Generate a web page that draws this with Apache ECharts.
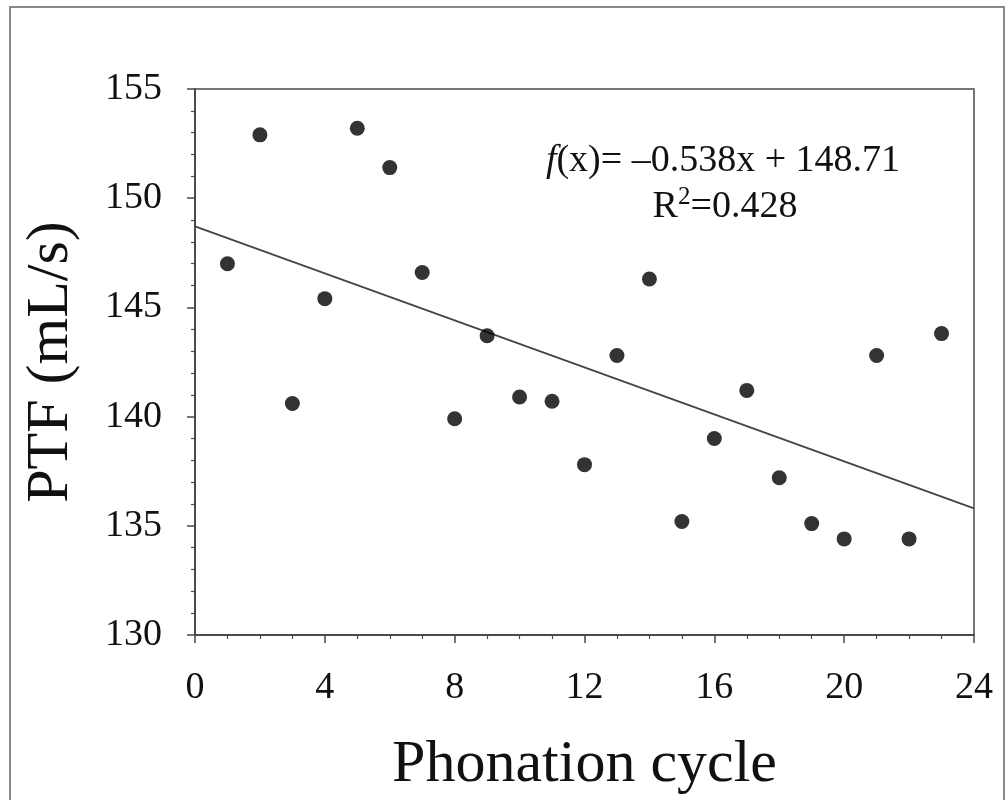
<!DOCTYPE html>
<html>
<head>
<meta charset="utf-8">
<script src="https://cdn.jsdelivr.net/npm/echarts@6/dist/echarts.min.js"></script>
<style>
  html, body { margin: 0; padding: 0; background: #fff; }
  #chart { width: 1008px; height: 800px; }
</style>
</head>
<body>
<div id="chart"></div>
<script>
// measured points: phonation cycle vs PTF
const cycles = [1, 2, 3, 4, 5, 6, 7, 8, 9, 10, 11, 12, 13, 14, 15, 16, 17, 18, 19, 20, 21, 22, 23];
const ptf = [147.0, 152.9, 140.6, 145.4, 153.2, 151.4, 146.6, 139.9, 143.7, 140.9, 140.7, 137.8,
  142.8, 146.3, 135.2, 139.0, 141.2, 137.2, 135.1, 134.4, 142.8, 134.4, 143.8];

// fitted line end points (as drawn)
const fitX = [0, 24];
const fitY = [148.71, 135.8];

const xTicks = { min: 0, max: 24, interval: 4 };
const yTicks = { min: 130, max: 155, interval: 5 };

const FONT = '"Liberation Serif", "Times New Roman", serif';
const AXIS = '#4a4a4a';

const chart = echarts.init(document.getElementById('chart'));

chart.setOption({
  backgroundColor: '#fff',
  animation: false,
  grid: {
    left: 195, right: 34, top: 89, bottom: 165,
    show: true, borderColor: AXIS, borderWidth: 1.5
  },
  xAxis: {
    type: 'value',
    min: xTicks.min, max: xTicks.max, interval: xTicks.interval,
    name: 'Phonation cycle',
    nameLocation: 'middle',
    nameGap: 100,
    nameTextStyle: { fontFamily: FONT, fontSize: 60, color: '#111' },
    axisLine: { show: true, onZero: false, lineStyle: { color: AXIS, width: 2 } },
    axisTick: { show: true, inside: false, length: 8, lineStyle: { color: AXIS, width: 1.5 } },
    minorTick: { show: true, splitNumber: 4, length: 4, lineStyle: { color: AXIS, width: 1.2 } },
    splitLine: { show: false },
    axisLabel: { fontFamily: FONT, fontSize: 38, color: '#111', margin: 34 }
  },
  yAxis: {
    type: 'value',
    min: yTicks.min, max: yTicks.max, interval: yTicks.interval,
    name: 'PTF (mL/s)',
    nameLocation: 'middle',
    nameGap: 114,
    nameTextStyle: { fontFamily: FONT, fontSize: 60, color: '#111' },
    axisLine: { show: true, onZero: false, lineStyle: { color: AXIS, width: 2 } },
    axisTick: { show: true, inside: false, length: 8, lineStyle: { color: AXIS, width: 1.5 } },
    minorTick: { show: true, splitNumber: 5, length: 4, lineStyle: { color: AXIS, width: 1.2 } },
    splitLine: { show: false },
    axisLabel: { fontFamily: FONT, fontSize: 38, color: '#111', margin: 33 }
  },
  graphic: [
    {
      type: 'rect',
      shape: { x: 10, y: 7, width: 994, height: 820 },
      style: { fill: 'none', stroke: '#888', lineWidth: 2 },
      silent: true
    },
    {
      type: 'text',
      x: 723, y: 161,
      style: {
        text: '{i|f}(x)= \u20130.538x + 148.71',
        rich: { i: { fontStyle: 'italic', fontFamily: FONT, fontSize: 38, fill: '#111' } },
        fontFamily: FONT, fontSize: 38, fill: '#111',
        align: 'center', verticalAlign: 'middle'
      }
    },
    {
      type: 'text',
      x: 725, y: 207,
      style: {
        text: '{n|R}{s|2}{n|=0.428}',
        rich: {
          n: { fontFamily: FONT, fontSize: 38, fill: '#111', lineHeight: 44 },
          s: { fontFamily: FONT, fontSize: 25, fill: '#111', verticalAlign: 'top' }
        },
        align: 'center', verticalAlign: 'middle'
      }
    }
  ],
  series: [
    {
      type: 'line',
      data: fitX.map((x, i) => [x, fitY[i]]),
      showSymbol: false,
      symbol: 'none',
      lineStyle: { color: '#444', width: 1.7 },
      z: 2
    },
    {
      type: 'scatter',
      data: cycles.map((c, i) => [c, ptf[i]]),
      symbol: 'circle',
      symbolSize: 15,
      itemStyle: { color: '#000' },
      z: 3
    }
  ]
});
</script>
</body>
</html>
